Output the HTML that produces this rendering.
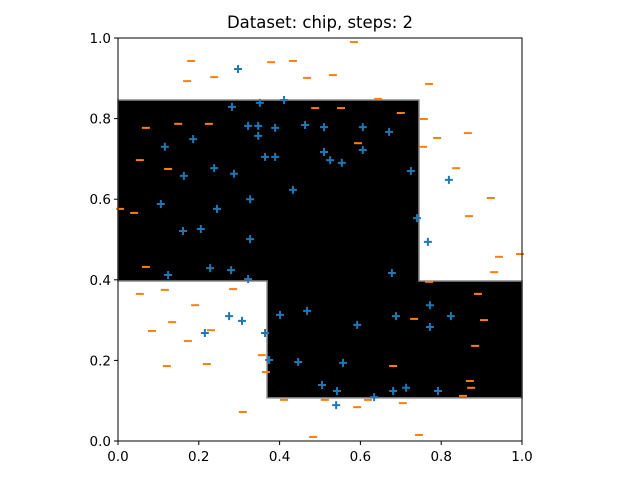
<!DOCTYPE html>
<html><head><meta charset="utf-8"><style>body{margin:0;background:#fff}svg{display:block;font-family:"DejaVu Sans","Liberation Sans",sans-serif}</style></head>
<body>
<svg id="chart" width="640" height="480" viewBox="0 0 640 480">
<text x="320" y="28" text-anchor="middle" font-size="16.5">Dataset: chip, steps: 2</text>
</svg>
<script>
const xTicks=[0,0.2,0.4,0.6,0.8,1.0];
const yTicks=[0,0.2,0.4,0.6,0.8,1.0];
const tickLabels=["0.0","0.2","0.4","0.6","0.8","1.0"];
const regionX=[0,0.745,0.745,1,1,0.369,0.369,0];
const regionY=[0.846,0.846,0.397,0.397,0.107,0.107,0.397,0.397];
const blueX=[0.297,0.282,0.351,0.411,0.322,0.347,0.347,0.389,0.463,0.186,0.116,0.364,0.389,0.238,0.163,0.287,0.106,0.245,0.327,0.433,0.161,0.205,0.327,0.510,0.525,0.554,0.606,0.606,0.510,0.671,0.725,0.740,0.819,0.767,0.124,0.228,0.280,0.322,0.275,0.307,0.215,0.364,0.374,0.401,0.468,0.446,0.505,0.542,0.557,0.592,0.678,0.688,0.772,0.772,0.824,0.681,0.713,0.792,0.634,0.540];
const blueY=[0.923,0.829,0.839,0.846,0.782,0.782,0.757,0.777,0.784,0.749,0.730,0.705,0.705,0.677,0.658,0.663,0.588,0.576,0.600,0.623,0.521,0.526,0.501,0.779,0.697,0.690,0.722,0.779,0.717,0.767,0.670,0.553,0.648,0.494,0.412,0.429,0.424,0.402,0.310,0.298,0.268,0.268,0.201,0.313,0.323,0.196,0.139,0.124,0.194,0.288,0.417,0.310,0.337,0.283,0.310,0.124,0.132,0.124,0.109,0.089];
const orangeX=[0.181,0.171,0.238,0.379,0.433,0.468,0.532,0.584,0.069,0.149,0.225,0.054,0.124,0.005,0.040,0.488,0.552,0.644,0.700,0.757,0.770,0.594,0.755,0.790,0.866,0.837,0.869,0.923,0.943,0.931,0.995,0.770,0.069,0.054,0.116,0.191,0.285,0.084,0.134,0.173,0.230,0.220,0.121,0.356,0.366,0.411,0.309,0.512,0.592,0.619,0.681,0.705,0.733,0.884,0.891,0.906,0.871,0.854,0.874,0.745,0.483];
const orangeY=[0.943,0.893,0.903,0.940,0.943,0.901,0.908,0.990,0.777,0.787,0.787,0.697,0.675,0.576,0.566,0.826,0.826,0.849,0.814,0.799,0.886,0.739,0.730,0.752,0.764,0.677,0.558,0.603,0.457,0.419,0.464,0.395,0.432,0.365,0.375,0.337,0.377,0.273,0.295,0.248,0.275,0.191,0.186,0.213,0.171,0.102,0.072,0.102,0.084,0.102,0.186,0.094,0.303,0.236,0.365,0.300,0.149,0.112,0.132,0.015,0.010];
const L=118,R=522,T=38,B=441;
const sx=v=>L+v*(R-L), sy=v=>B-v*(B-T);
const svg=document.getElementById('chart'), NS='http://www.w3.org/2000/svg';
function mk(tag,attrs,parent){const e=document.createElementNS(NS,tag);for(const k in attrs)e.setAttribute(k,attrs[k]);(parent||svg).appendChild(e);return e;}
const poly=mk('polygon',{points:regionX.map((x,i)=>sx(x)+','+sy(regionY[i])).join(' '),fill:'#000',stroke:'#888','stroke-width':1.5});


const gb=mk('g',{stroke:'#1f77b4','stroke-width':2});


blueX.forEach((x,i)=>{const cx=sx(x),cy=sy(blueY[i]);const p=mk('path',{d:`M${cx-4},${cy}H${cx+4}M${cx},${cy-4}V${cy+4}`},gb);

});
const go=mk('g',{stroke:'#ff7f0e','stroke-width':2});


orangeX.forEach((x,i)=>{const cx=sx(x),cy=sy(orangeY[i]);const p=mk('path',{d:`M${cx-4},${cy}H${cx+4}`},go);

});
const fr=mk('rect',{x:L,y:T,width:R-L,height:B-T,fill:'none',stroke:'#000','stroke-width':1});


xTicks.forEach((v,i)=>{const x=sx(v);mk('line',{x1:x,x2:x,y1:B,y2:B+4,stroke:'#000'});
const t=mk('text',{x:x,y:B+20,'text-anchor':'middle','font-size':13.5});t.textContent=tickLabels[i];

});
yTicks.forEach((v,i)=>{const y=sy(v);mk('line',{x1:L-4,x2:L,y1:y,y2:y,stroke:'#000'});
const t=mk('text',{x:L-7,y:y+5,'text-anchor':'end','font-size':13.5});t.textContent=tickLabels[i];

});
</script>
</body></html>
